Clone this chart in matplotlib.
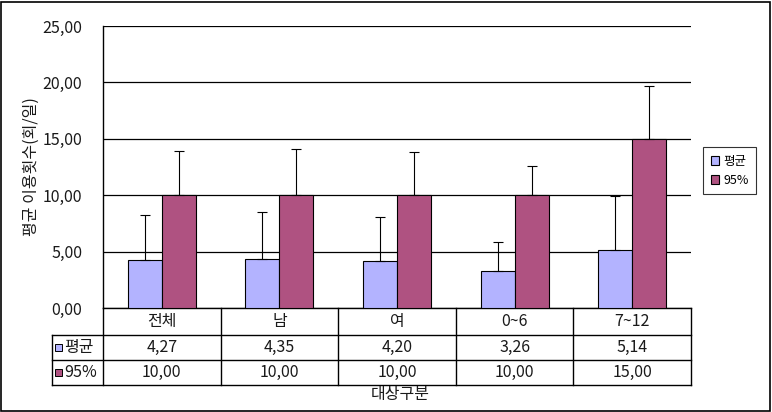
import numpy as np
import matplotlib
matplotlib.use("Agg")
import matplotlib.pyplot as plt
from matplotlib.patches import Rectangle
import matplotlib.transforms as mtransforms

plt.rcParams['font.family'] = ['Noto Sans CJK KR', 'DejaVu Sans']

# data
categories = ['전체', '남', '여', '0~6', '7~12']
series_names = ['평균', '95%']
mean_vals = [4.27, 4.35, 4.20, 3.26, 5.14]
p95_vals = [10.00, 10.00, 10.00, 10.00, 15.00]
mean_err = [3.97, 4.16, 3.87, 2.59, 4.79]
p95_err = [3.92, 4.10, 3.83, 2.59, 4.68]
yticks = [0, 5, 10, 15, 20, 25]

colors = ['#B3B3FF', '#AF5281']
fs = 11.5
tcol = '#1a1a1a'

def fmt(v):
    return f"{v:.2f}".replace('.', ',')

W, H = 772, 412
fig = plt.figure(figsize=(W / 100, H / 100), dpi=100)
fig.patch.set_facecolor('white')

# outer frame
fig.add_artist(Rectangle((1 / W, 1 / H), 769 / W, 409 / H, transform=fig.transFigure,
                         fill=False, edgecolor='black', linewidth=1.2))

ax = fig.add_axes([103 / W, 1 - 308 / H, 588 / W, 282 / H])
x = np.arange(len(categories))
bw = 0.289

ax.bar(x - bw / 2, mean_vals, bw, color=colors[0], edgecolor='black', linewidth=0.8,
       label=series_names[0], zorder=3)
ax.bar(x + bw / 2, p95_vals, bw, color=colors[1], edgecolor='black', linewidth=0.8,
       label=series_names[1], zorder=3)
ax.errorbar(x - bw / 2, mean_vals, yerr=[np.zeros(len(x)), mean_err], fmt='none',
            ecolor='black', elinewidth=0.8, capsize=3.5, capthick=0.8, zorder=4)
ax.errorbar(x + bw / 2, p95_vals, yerr=[np.zeros(len(x)), p95_err], fmt='none',
            ecolor='black', elinewidth=0.8, capsize=3.5, capthick=0.8, zorder=4)

ax.set_xlim(-0.5, len(categories) - 0.5)
ax.set_ylim(0, 25)
ax.set_yticks(yticks)
ax.set_yticklabels([fmt(t) for t in yticks], fontsize=fs, color=tcol)
ax.tick_params(axis='y', length=0, pad=15)
ax.set_xticks([])
ax.grid(axis='y', color='black', linewidth=0.9, zorder=0)
for s in ['top', 'right']:
    ax.spines[s].set_visible(False)
ax.spines['left'].set_linewidth(1.0)
ax.spines['bottom'].set_linewidth(1.0)

ax.set_ylabel('평균 이용횟수(회/일)', fontsize=fs, color=tcol, labelpad=2)

# data table under the plot
trans = mtransforms.blended_transform_factory(ax.transData, ax.transAxes)
row_h = [27 / 282, 25 / 282, 25 / 282]
y_edges = [0, -row_h[0], -row_h[0] - row_h[1], -sum(row_h)]
x_left = -0.5 - 51 / 117.6
x_right = len(categories) - 0.5
lkw = dict(color='black', linewidth=1.0, transform=trans, clip_on=False)

for ye in y_edges[1:]:
    ax.plot([x_left, x_right], [ye, ye], **lkw)
for b in np.arange(len(categories) + 1) - 0.5:
    ax.plot([b, b], [0, y_edges[-1]], **lkw)
ax.plot([x_left, x_left], [y_edges[1], y_edges[-1]], **lkw)

rows = [mean_vals, p95_vals]
for i, c in enumerate(categories):
    ax.text(i, (y_edges[0] + y_edges[1]) / 2, c, ha='center', va='center',
            fontsize=fs, color=tcol, transform=trans)
    for r, vals in enumerate(rows):
        ax.text(i, (y_edges[r + 1] + y_edges[r + 2]) / 2, fmt(vals[i]), ha='center',
                va='center', fontsize=fs, color=tcol, transform=trans)

# row labels with colour keys
sq = 7 / 117.6
for r, name in enumerate(series_names):
    yc = (y_edges[r + 1] + y_edges[r + 2]) / 2
    ax.add_patch(Rectangle((x_left + 3 / 117.6, yc - 3.5 / 282), sq, 7 / 282,
                           facecolor=colors[r], edgecolor='black', linewidth=0.7,
                           transform=trans, clip_on=False))
    ax.text(x_left + 12 / 117.6, yc, name, ha='left', va='center', fontsize=fs,
            color=tcol, transform=trans)

fig.text(400 / W, 1 - 394 / H, '대상구분', ha='center', va='center', fontsize=fs,
         color=tcol)

leg = ax.legend(loc='upper left', bbox_to_anchor=(703 / W, 1 - 147 / H),
                bbox_transform=fig.transFigure, frameon=True, fancybox=False,
                edgecolor='black', fontsize=9, handlelength=0.7, handleheight=0.7,
                handletextpad=0.3, borderpad=0.6, labelspacing=0.5, borderaxespad=0)
leg.get_frame().set_linewidth(0.8)

fig.savefig('out.png', dpi=100)
